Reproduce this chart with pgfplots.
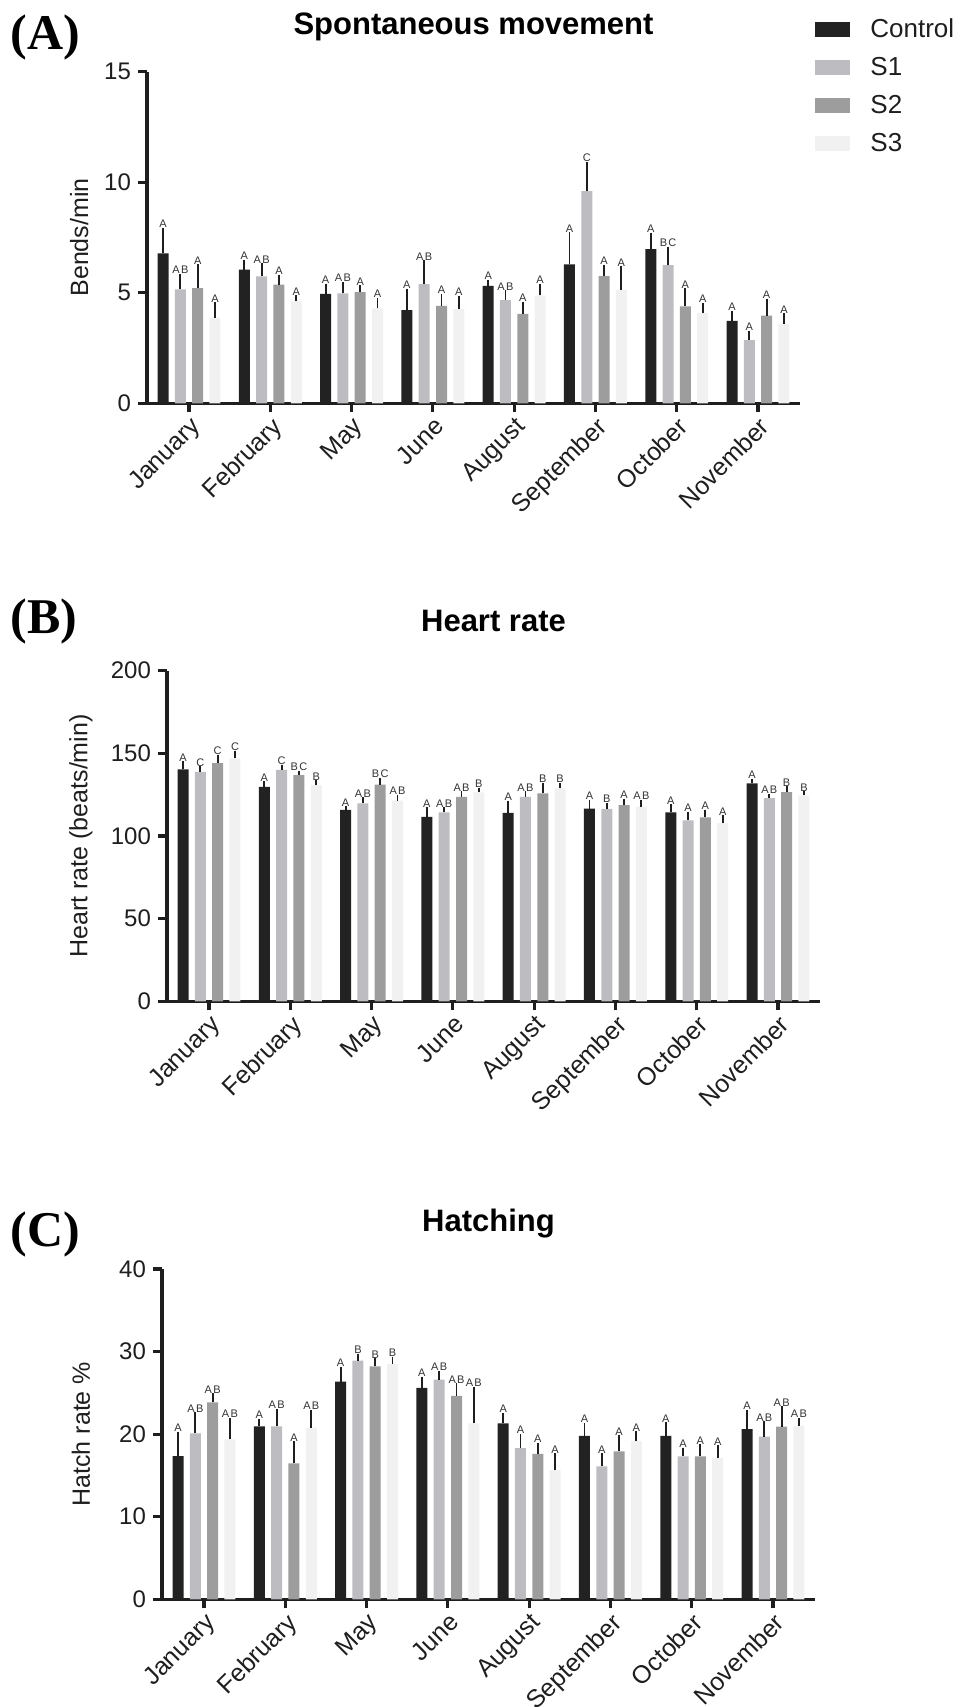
\documentclass[border=0pt]{standalone}
\usepackage{fontspec}
\setmainfont{Liberation Sans}
\newfontfamily\serifletter{Liberation Serif}
\newfontfamily\lblfont[LetterSpace=12]{Liberation Sans}
\usepackage{pgfplots}
\usepackage{pgfplotstable}
\pgfplotsset{compat=1.18}

\definecolor{cC}{HTML}{222222}
\definecolor{cSa}{HTML}{BDBDC1}
\definecolor{cSb}{HTML}{9D9D9D}
\definecolor{cSc}{HTML}{F1F1F1}
\definecolor{axc}{HTML}{1E1E1E}

% Spontaneous movement (Bends/min)
\pgfplotstableread{
x c ce lc s1 s1e l1 s2 s2e l2 s3 s3e l3
0 6.78 1.05 A 5.15 0.60 AB 5.21 0.99 A 3.87 0.60 A
1 6.05 0.35 A 5.74 0.49 AB 5.37 0.35 A 4.61 0.18 A
2 4.95 0.36 A 4.97 0.42 AB 5.03 0.21 A 4.29 0.38 A
3 4.21 0.88 A 5.39 0.98 AB 4.41 0.45 A 4.26 0.51 A
4 5.31 0.18 A 4.67 0.34 AB 4.05 0.45 A 4.88 0.43 A
5 6.28 1.35 A 9.60 1.21 C 5.75 0.42 A 5.13 0.98 A
6 6.97 0.65 A 6.25 0.73 BC 4.38 0.72 A 4.08 0.36 A
7 3.73 0.35 A 2.86 0.33 A 3.96 0.67 A 3.60 0.37 A
}\dataA

% Heart rate (beats/min)
\pgfplotstableread{
x c ce lc s1 s1e l1 s2 s2e l2 s3 s3e l3
0 140.3 3.6 A 138.8 2.1 C 144.1 3.8 C 146.9 3.4 C
1 129.7 2.1 A 140.0 1.8 C 136.8 1.4 BC 130.8 1.4 B
2 115.7 1.0 A 119.7 2.4 AB 131.0 2.8 BC 121.3 2.4 AB
3 111.6 4.5 A 114.3 1.8 AB 123.7 2.1 AB 126.4 1.4 B
4 114.0 6.1 A 123.7 2.1 AB 125.8 5.0 B 128.8 2.0 B
5 116.5 4.0 A 116.3 2.4 B 118.7 2.6 A 117.7 3.0 AB
6 114.3 3.4 A 109.4 3.8 A 111.2 3.4 A 107.8 3.4 A
7 131.8 1.6 A 122.9 1.2 AB 126.5 2.3 B 124.5 1.3 B
}\dataB

% Hatching (Hatch rate %)
\pgfplotstableread{
x c ce lc s1 s1e l1 s2 s2e l2 s3 s3e l3
0 17.35 2.65 A 20.10 2.30 AB 23.85 0.85 AB 19.37 2.33 AB
1 20.94 0.66 A 20.94 1.86 AB 16.46 2.44 A 20.80 1.90 AB
2 26.35 1.55 A 28.90 0.60 B 28.20 0.70 B 28.50 0.60 B
3 25.60 1.10 A 26.60 0.80 AB 24.65 1.25 AB 21.30 4.20 AB
4 21.30 1.05 A 18.30 1.50 A 17.60 1.10 A 15.65 1.75 A
5 19.80 1.30 A 16.10 1.30 A 17.90 1.70 A 19.20 0.90 A
6 19.80 1.40 A 17.30 0.80 A 17.30 1.20 A 17.10 1.30 A
7 20.60 2.10 A 19.70 1.60 AB 20.90 2.20 AB 21.00 0.70 AB
}\dataC

\pgfplotsset{
  panel/.style={
    scale only axis, width=326.5pt,
    xmin=-0.517, xmax=7.517, ymin=0,
    axis lines*=left,
    axis line style={line width=1.6pt, axc},
    tick style={line width=1.6pt, axc},
    major tick length=4.5pt,
    tick align=outside,
    xtick={0,...,7},
    xticklabels={January,February,May,June,August,September,October,November},
    xticklabel style={rotate=45, anchor=north east, inner sep=1pt, font=\fontsize{12.5}{14}\selectfont, text=axc},
    yticklabel style={font=\fontsize{12}{14}\selectfont, text=axc},
    /pgf/number format/assume math mode=true,
    ylabel style={font=\fontsize{12.5}{14}\selectfont, anchor=center, text=axc},
    minor tick num=0,
    clip=false,
  },
  bars/.style={ybar, bar width=5.5pt, bar shift=0pt, fill=#1, draw=none,
    error bars/.cd, y dir=plus, y explicit,
    error bar style={line width=0.9pt, axc},
    error mark options={line width=0.9pt, axc, mark size=1.1pt}},
  lbl/.style={draw=none, mark=none, forget plot, nodes near coords, point meta=explicit symbolic,
    every node near coord/.append style={anchor=south, inner sep=0.9pt,
      font=\lblfont\fontsize{5.5}{6}\selectfont, text=black!80}},
}

\begin{document}
\begin{tikzpicture}
\path[use as bounding box] (0,0) rectangle (480pt,853.5pt);

% ---------------- Panel A ----------------
\node[font=\serifletter\bfseries\fontsize{25}{28}\selectfont, anchor=base west, inner sep=0pt] at (5pt,828.5pt) {(A)};
\node[font=\bfseries\fontsize{15.5}{18}\selectfont, anchor=base, inner sep=0pt] at (236.75pt,836pt) {Spontaneous movement};
\begin{axis}[panel, at={(73.5pt,651.85pt)}, anchor=south west, height=165.8pt,
  ymax=15, ytick={0,5,10,15}, ylabel={Bends/min},
  ylabel style={at={(axis description cs:-0.104,0.5)}},
  legend style={at={(1,1)}, anchor=north west, xshift=7.5pt, yshift=26.8pt, draw=none, fill=none,
    font=\fontsize{13}{15}\selectfont, row sep=8.4pt, column sep=10pt, inner sep=0pt,
    nodes={inner sep=0pt, text=axc}},
  legend cell align=left]
\addplot[legend image code/.code={\fill[cC] (0pt,-3.75pt) rectangle (17.5pt,3.75pt);}, bars=cC]
  table[x expr=\thisrow{x}-0.3194, y=c, y error=ce]{\dataA};
\addlegendentry{Control}
\addplot[legend image code/.code={\fill[cSa] (0pt,-3.75pt) rectangle (17.5pt,3.75pt);}, bars=cSa]
  table[x expr=\thisrow{x}-0.1065, y=s1, y error=s1e]{\dataA};
\addlegendentry{S1}
\addplot[legend image code/.code={\fill[cSb] (0pt,-3.75pt) rectangle (17.5pt,3.75pt);}, bars=cSb]
  table[x expr=\thisrow{x}+0.1065, y=s2, y error=s2e]{\dataA};
\addlegendentry{S2}
\addplot[legend image code/.code={\fill[cSc] (0pt,-3.75pt) rectangle (17.5pt,3.75pt);}, bars=cSc]
  table[x expr=\thisrow{x}+0.3194, y=s3, y error=s3e]{\dataA};
\addlegendentry{S3}
\addplot[lbl] table[x expr=\thisrow{x}-0.3194, y expr=\thisrow{c}+\thisrow{ce}, meta=lc]{\dataA};
\addplot[lbl] table[x expr=\thisrow{x}-0.1065, y expr=\thisrow{s1}+\thisrow{s1e}, meta=l1]{\dataA};
\addplot[lbl] table[x expr=\thisrow{x}+0.1065, y expr=\thisrow{s2}+\thisrow{s2e}, meta=l2]{\dataA};
\addplot[lbl] table[x expr=\thisrow{x}+0.3194, y expr=\thisrow{s3}+\thisrow{s3e}, meta=l3]{\dataA};
\end{axis}

% ---------------- Panel B ----------------
\node[font=\serifletter\bfseries\fontsize{25}{28}\selectfont, anchor=base west, inner sep=0pt] at (5pt,536.5pt) {(B)};
\node[font=\bfseries\fontsize{15.5}{18}\selectfont, anchor=base, inner sep=0pt] at (246.75pt,537.65pt) {Heart rate};
\begin{axis}[panel, at={(83.5pt,352.85pt)}, anchor=south west, height=165.35pt,
  ymax=200, ytick={0,50,100,150,200}, ylabel={Heart rate (beats/min)},
  ylabel style={at={(axis description cs:-0.132,0.5)}}]
\addplot[bars=cC] table[x expr=\thisrow{x}-0.3194, y=c, y error=ce]{\dataB};
\addplot[bars=cSa] table[x expr=\thisrow{x}-0.1065, y=s1, y error=s1e]{\dataB};
\addplot[bars=cSb] table[x expr=\thisrow{x}+0.1065, y=s2, y error=s2e]{\dataB};
\addplot[bars=cSc] table[x expr=\thisrow{x}+0.3194, y=s3, y error=s3e]{\dataB};
\addplot[lbl] table[x expr=\thisrow{x}-0.3194, y expr=\thisrow{c}+\thisrow{ce}, meta=lc]{\dataB};
\addplot[lbl] table[x expr=\thisrow{x}-0.1065, y expr=\thisrow{s1}+\thisrow{s1e}, meta=l1]{\dataB};
\addplot[lbl] table[x expr=\thisrow{x}+0.1065, y expr=\thisrow{s2}+\thisrow{s2e}, meta=l2]{\dataB};
\addplot[lbl] table[x expr=\thisrow{x}+0.3194, y expr=\thisrow{s3}+\thisrow{s3e}, meta=l3]{\dataB};
\end{axis}

% ---------------- Panel C ----------------
\node[font=\serifletter\bfseries\fontsize{25}{28}\selectfont, anchor=base west, inner sep=0pt] at (5pt,230pt) {(C)};
\node[font=\bfseries\fontsize{15.5}{18}\selectfont, anchor=base, inner sep=0pt] at (244.25pt,237.65pt) {Hatching};
\begin{axis}[panel, at={(81pt,53.85pt)}, anchor=south west, height=165.15pt,
  ymax=40, ytick={0,10,20,30,40}, ylabel={Hatch rate \%},
  ylabel style={at={(axis description cs:-0.124,0.5)}}]
\addplot[bars=cC] table[x expr=\thisrow{x}-0.3194, y=c, y error=ce]{\dataC};
\addplot[bars=cSa] table[x expr=\thisrow{x}-0.1065, y=s1, y error=s1e]{\dataC};
\addplot[bars=cSb] table[x expr=\thisrow{x}+0.1065, y=s2, y error=s2e]{\dataC};
\addplot[bars=cSc] table[x expr=\thisrow{x}+0.3194, y=s3, y error=s3e]{\dataC};
\addplot[lbl] table[x expr=\thisrow{x}-0.3194, y expr=\thisrow{c}+\thisrow{ce}, meta=lc]{\dataC};
\addplot[lbl] table[x expr=\thisrow{x}-0.1065, y expr=\thisrow{s1}+\thisrow{s1e}, meta=l1]{\dataC};
\addplot[lbl] table[x expr=\thisrow{x}+0.1065, y expr=\thisrow{s2}+\thisrow{s2e}, meta=l2]{\dataC};
\addplot[lbl] table[x expr=\thisrow{x}+0.3194, y expr=\thisrow{s3}+\thisrow{s3e}, meta=l3]{\dataC};
\end{axis}
\end{tikzpicture}
\end{document}
